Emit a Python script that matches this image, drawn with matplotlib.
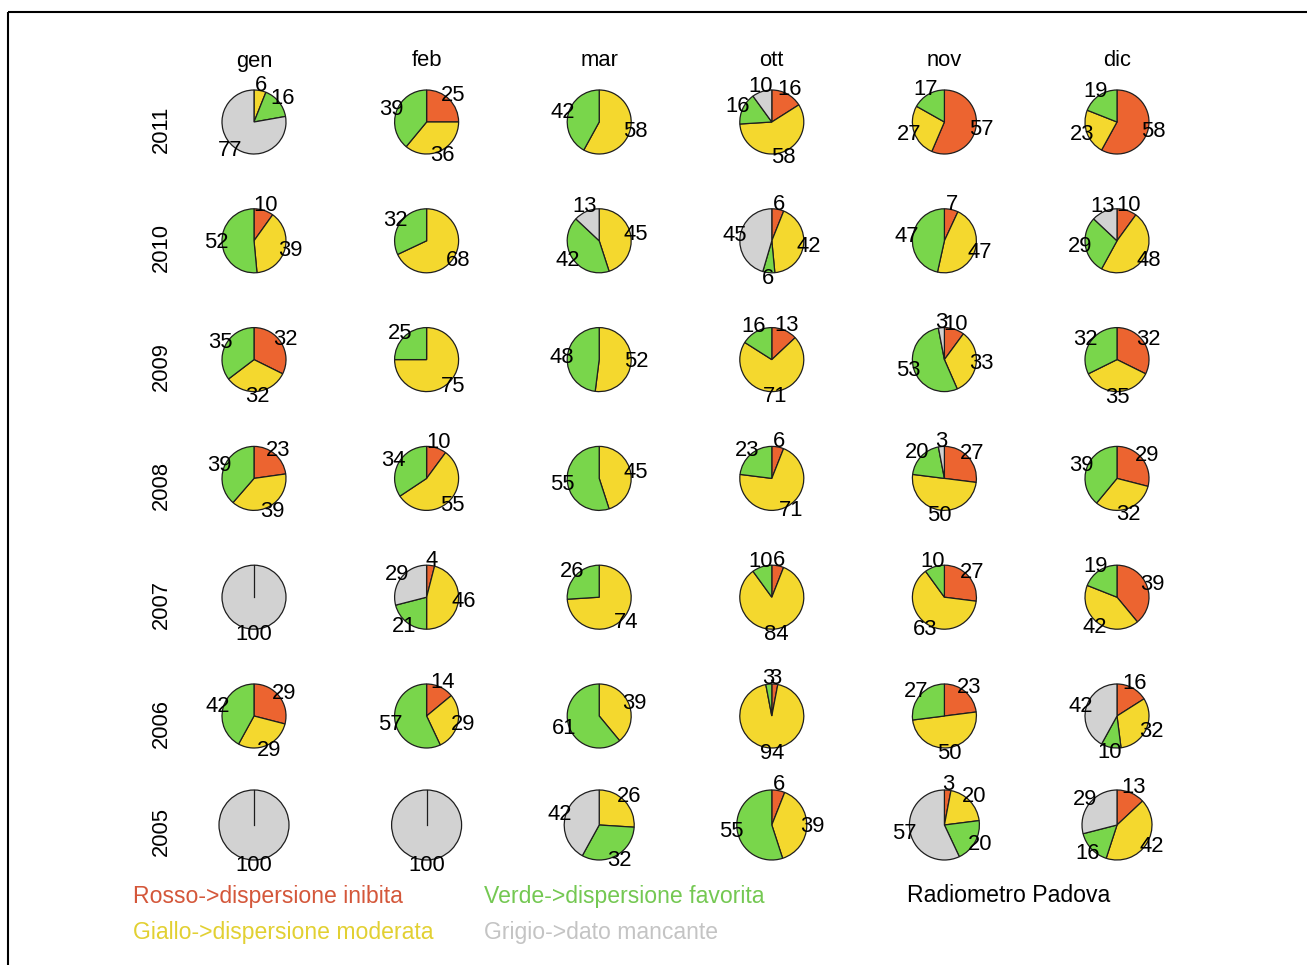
import matplotlib
matplotlib.use("Agg")
import matplotlib.pyplot as plt

plt.rcParams["font.family"] = ["Liberation Sans", "DejaVu Sans"]

months = ["gen", "feb", "mar", "ott", "nov", "dic"]
years = ["2011", "2010", "2009", "2008", "2007", "2006", "2005"]

# Percent of days in each class, rows = years, columns = months
rosso = [
    [0, 25, 0, 16, 57, 58],
    [10, 0, 0, 6, 7, 10],
    [32, 0, 0, 13, 10, 32],
    [23, 10, 0, 6, 27, 29],
    [0, 4, 0, 6, 27, 39],
    [29, 14, 0, 3, 23, 16],
    [0, 0, 0, 6, 3, 13],
]
giallo = [
    [6, 36, 58, 58, 27, 23],
    [39, 68, 45, 42, 47, 48],
    [32, 75, 52, 71, 33, 35],
    [39, 55, 45, 71, 50, 32],
    [0, 46, 74, 84, 63, 42],
    [29, 29, 39, 94, 50, 32],
    [0, 0, 26, 39, 20, 42],
]
verde = [
    [16, 39, 42, 16, 17, 19],
    [52, 32, 42, 6, 47, 29],
    [35, 25, 48, 16, 53, 32],
    [39, 34, 55, 23, 20, 39],
    [0, 21, 26, 10, 10, 19],
    [42, 57, 61, 3, 27, 10],
    [0, 0, 32, 55, 20, 16],
]
grigio = [
    [77, 0, 0, 10, 0, 0],
    [0, 0, 13, 45, 0, 13],
    [0, 0, 0, 0, 3, 0],
    [0, 0, 0, 0, 3, 0],
    [100, 29, 0, 0, 0, 0],
    [0, 0, 0, 0, 0, 42],
    [100, 100, 42, 0, 57, 29],
]

legend_labels = [
    "Rosso->dispersione inibita",
    "Giallo->dispersione moderata",
    "Verde->dispersione favorita",
    "Grigio->dato mancante",
]
station = "Radiometro Padova"

slice_colors = ["#EC6430", "#F4D82E", "#79D64B", "#D2D2D2"]
text_colors = ["#D4573A", "#E2D032", "#74C852", "#C4C4C4"]
edge = "#1E1E1E"

W, H = 1307, 965
fig = plt.figure(figsize=(W / 100, H / 100), dpi=100)
ax = fig.add_axes([0, 0, 1, 1])

col_x = [254 + 172.6 * j for j in range(len(months))]
row_y = [122 + 118.8 * i for i in range(len(years) - 1)] + [825]

for i, year in enumerate(years):
    r = 35 if i == len(years) - 1 else 32
    cy = H - row_y[i]
    for j, month in enumerate(months):
        cx = col_x[j]
        vals = [rosso[i][j], giallo[i][j], verde[i][j], grigio[i][j]]
        keep = [k for k, v in enumerate(vals) if v > 0]
        sizes = [vals[k] for k in keep]
        cols = [slice_colors[k] for k in keep]
        labs = [str(vals[k]) for k in keep]
        wedges, texts = ax.pie(
            sizes, colors=cols, labels=labs, startangle=90, counterclock=False,
            center=(cx, cy), radius=r, labeldistance=1.17,
            wedgeprops=dict(edgecolor=edge, linewidth=0.9),
            textprops=dict(fontsize=15.8, color="black"),
        )
        for t in texts:
            t.set_ha("center")
            t.set_va("center")
        if len(sizes) == 1:
            ax.plot([cx, cx], [cy, cy + r], color=edge, lw=0.9)

for j, month in enumerate(months):
    ax.text(col_x[j], H - 61, month, ha="center", va="center", fontsize=15.8)
for i, year in enumerate(years):
    ax.text(161, H - (row_y[i] + 7), year, ha="center", va="center",
            rotation=90, fontsize=15.8)

leg_pos = [(133, 896), (133, 932), (484, 896), (484, 932)]
for (lx, ly), lab, c in zip(leg_pos, legend_labels, text_colors):
    ax.text(lx, H - ly, lab, ha="left", va="center", fontsize=16.6, color=c)
ax.text(907, H - 896, station, ha="left", va="center", fontsize=16.6,
        color="black")

# frame lines along the top and left edges
ax.plot([8, W + 5], [H - 12, H - 12], color="black", lw=1.5,
        solid_capstyle="butt")
ax.plot([8, 8], [H - 12, -5], color="black", lw=1.5, solid_capstyle="butt")

ax.set_xlim(0, W)
ax.set_ylim(0, H)
ax.set_aspect("equal")
ax.axis("off")

fig.savefig("out.png", dpi=100, facecolor="white")
